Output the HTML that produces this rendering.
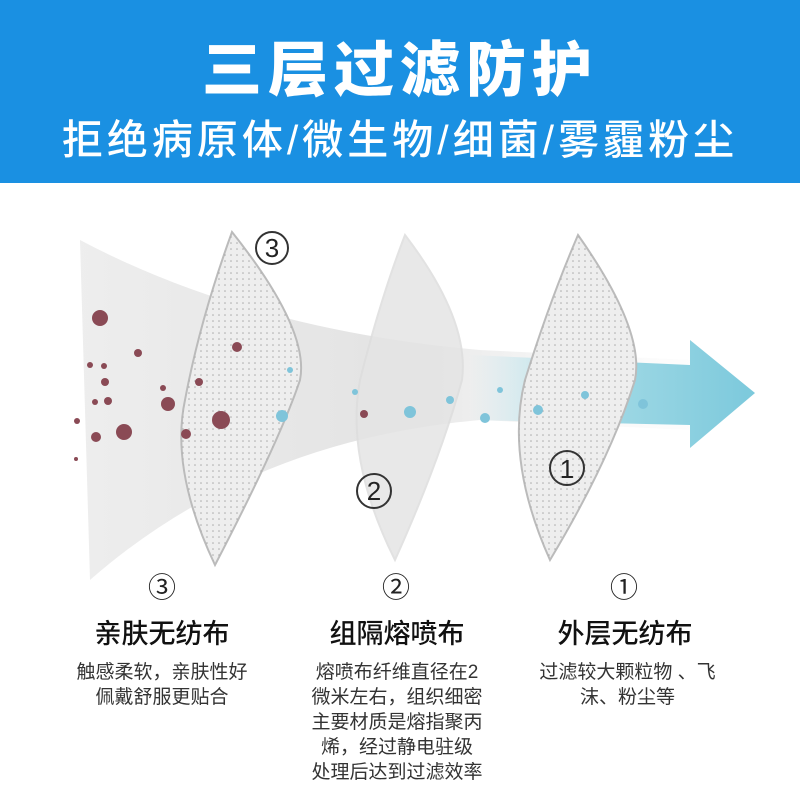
<!DOCTYPE html>
<html><head><meta charset="utf-8"><style>
body{margin:0;width:800px;height:800px;background:#fff;position:relative;overflow:hidden;font-family:"Liberation Sans","Noto Sans CJK SC",sans-serif}
.hdr{position:absolute;left:0;top:0;width:800px;height:183px;background:#1a90e2}
.t1{position:absolute;top:22px;width:800px;text-align:center;color:#fff;font-size:60px;font-weight:900;letter-spacing:6px}
.t2{position:absolute;top:106px;width:800px;text-align:center;color:#fff;font-size:41px;letter-spacing:4px;font-weight:500}
.c{position:absolute;text-align:center;color:#222}
.n{font-size:28px;top:566px}
.h{font-size:27px;top:612px;color:#111;font-weight:500}
.d{font-size:19px;line-height:25px;color:#333;top:660px}
</style></head><body>
<div class="hdr"><div class="t1">三层过滤防护</div><div class="t2">拒绝病原体/微生物/细菌/雾霾粉尘</div></div>
<svg width="800" height="800" style="position:absolute;left:0;top:0">
<defs>
<linearGradient id="band" x1="0" x2="1"><stop offset="0" stop-color="#e6e6e6"/><stop offset=".5" stop-color="#d8d8d8"/><stop offset="1" stop-color="#f4f4f4" stop-opacity=".3"/></linearGradient>
<linearGradient id="blue" x1="0" x2="1"><stop offset="0" stop-color="#bfe4ee" stop-opacity="0"/><stop offset=".4" stop-color="#a5dbe6"/><stop offset="1" stop-color="#7cc9dc"/></linearGradient>
<pattern id="dots" width="6" height="6" patternUnits="userSpaceOnUse"><circle cx="3" cy="3" r=".8" fill="#aaa"/></pattern>
</defs>
<path d="M80 240 Q250 330 480 350 L690 360 L690 430 L480 420 Q250 440 90 580 Z" fill="url(#band)" opacity=".7"/>
<path d="M470 355 L690 365 L690 340 L755 393 L690 448 L690 425 L470 420 Z" fill="url(#blue)"/>
<path d="M232 232 Q310 330 300 380 Q280 440 215 565 Q170 470 185 400 Q200 320 232 232Z" fill="#eee" stroke="#bbb" stroke-width="2"/>
<path d="M232 232 Q310 330 300 380 Q280 440 215 565 Q170 470 185 400 Q200 320 232 232Z" fill="url(#dots)"/>
<path d="M405 235 Q470 320 462 380 Q440 460 395 560 Q345 460 360 380 Q380 300 405 235Z" fill="#e4e4e4" stroke="#ddd" stroke-width="2" opacity=".85"/>
<path d="M578 235 Q645 330 635 380 Q610 460 550 560 Q505 460 525 380 Q550 300 578 235Z" fill="#eee" stroke="#bbb" stroke-width="2"/>
<path d="M578 235 Q645 330 635 380 Q610 460 550 560 Q505 460 525 380 Q550 300 578 235Z" fill="url(#dots)"/>
<g fill="#8a4a55"><circle cx="100" cy="318" r="8"/><circle cx="138" cy="353" r="4"/><circle cx="90" cy="365" r="3"/><circle cx="104" cy="366" r="3"/><circle cx="105" cy="382" r="4"/><circle cx="108" cy="401" r="4"/><circle cx="95" cy="402" r="3"/><circle cx="124" cy="432" r="8"/><circle cx="96" cy="437" r="5"/><circle cx="168" cy="404" r="7"/><circle cx="163" cy="388" r="3"/><circle cx="221" cy="420" r="9"/><circle cx="237" cy="347" r="5"/><circle cx="199" cy="382" r="4"/><circle cx="186" cy="434" r="5"/><circle cx="77" cy="421" r="3"/><circle cx="76" cy="459" r="2"/><circle cx="364" cy="414" r="4"/></g>
<g fill="#7fc4da"><circle cx="282" cy="416" r="6"/><circle cx="410" cy="412" r="6"/><circle cx="450" cy="400" r="4"/><circle cx="485" cy="418" r="5"/><circle cx="500" cy="390" r="3"/><circle cx="538" cy="410" r="5"/><circle cx="585" cy="395" r="4"/><circle cx="643" cy="404" r="5"/><circle cx="355" cy="392" r="3"/><circle cx="290" cy="370" r="3"/></g>
<g fill="none" stroke="#333" stroke-width="2"><circle cx="272" cy="248" r="16"/><circle cx="374" cy="491" r="17"/><circle cx="567" cy="468" r="17"/></g>
<g font-size="26" text-anchor="middle" fill="#222" font-family="Liberation Sans,sans-serif"><text x="272" y="257">3</text><text x="374" y="500">2</text><text x="567" y="478">1</text></g>
</svg>
<div class="c n" style="left:112px;width:100px">③</div>
<div class="c n" style="left:346px;width:100px">②</div>
<div class="c n" style="left:574px;width:100px">①</div>
<div class="c h" style="left:62px;width:200px">亲肤无纺布</div>
<div class="c h" style="left:297px;width:200px">组隔熔喷布</div>
<div class="c h" style="left:525px;width:200px">外层无纺布</div>
<div class="c d" style="left:47px;width:230px">触感柔软，亲肤性好<br>佩戴舒服更贴合</div>
<div class="c d" style="left:282px;width:230px">熔喷布纤维直径在2<br>微米左右，组织细密<br>主要材质是熔指聚丙<br>烯，经过静电驻级<br>处理后达到过滤效率</div>
<div class="c d" style="left:505px;width:245px">过滤较大颗粒物 、飞<br>沫、粉尘等</div>
</body></html>
